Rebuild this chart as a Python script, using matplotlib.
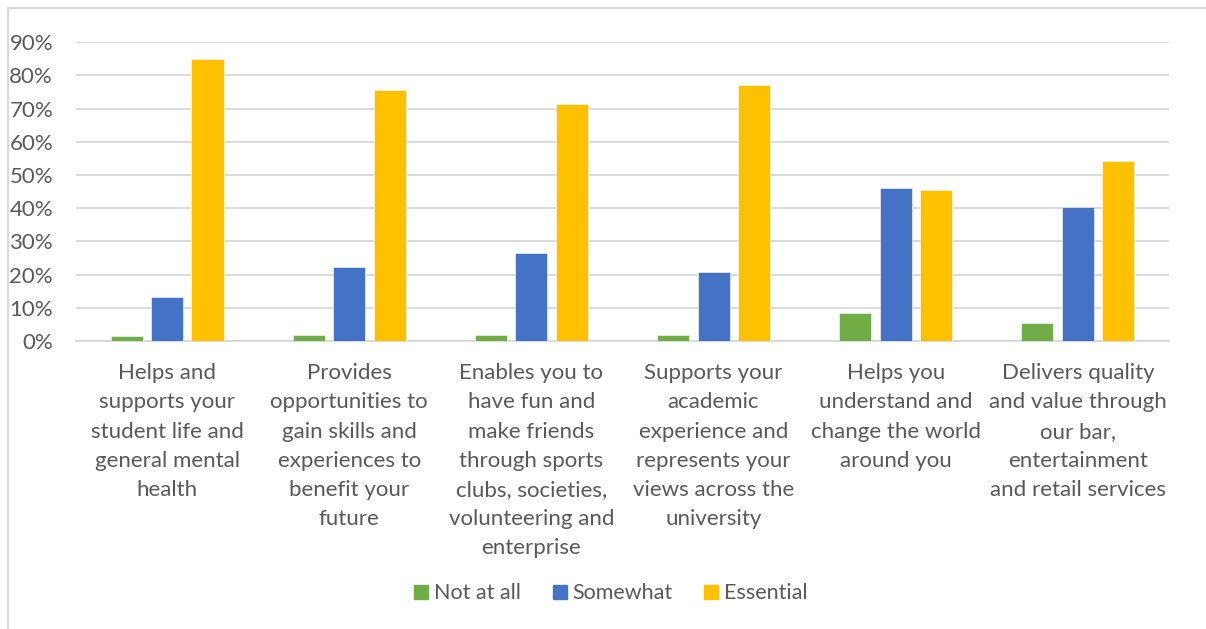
import numpy as np
import matplotlib
matplotlib.use("Agg")
import matplotlib.pyplot as plt
from matplotlib.lines import Line2D
from matplotlib.ticker import FuncFormatter

# Daten
categories = [
    "Helps and\nsupports your\nstudent life and\ngeneral mental\nhealth",
    "Provides\nopportunities to\ngain skills and\nexperiences to\nbenefit your\nfuture",
    "Enables you to\nhave fun and\nmake friends\nthrough sports\nclubs, societies,\nvolunteering and\nenterprise",
    "Supports your\nacademic\nexperience and\nrepresents your\nviews across the\nuniversity",
    "Helps you\nunderstand and\nchange the world\naround you",
    "Delivers quality\nand value through\nour bar,\nentertainment\nand retail services",
]
series_names = ["Not at all", "Somewhat", "Essential"]
not_at_all = [1.5, 1.7, 1.8, 1.8, 8.4, 5.4]
somewhat = [13.4, 22.4, 26.5, 20.8, 46.0, 40.3]
essential = [85.0, 75.6, 71.4, 77.1, 45.4, 54.1]
yticks = [0, 10, 20, 30, 40, 50, 60, 70, 80, 90]

colors = ["#70AD47", "#4472C4", "#FFC000"]
text_color = "#595959"
grid_color = "#D9D9D9"

plt.rcParams["font.family"] = ["Lato", "DejaVu Sans"]

fig = plt.figure(figsize=(12.06, 6.29), dpi=100)
ax = fig.add_axes([0.063, 0.4579, 0.9063, 0.4749])

x = np.arange(len(categories))
width = 0.176
step = 0.222
for i, (vals, name) in enumerate(zip([not_at_all, somewhat, essential], series_names)):
    ax.bar(x + (i - 1) * step, vals, width, color=colors[i], label=name,
           edgecolor="white", linewidth=0.4, zorder=3)

ax.set_xlim(-0.5, len(categories) - 0.5)
ax.set_ylim(0, 90)
ax.set_yticks(yticks)
ax.yaxis.set_major_formatter(FuncFormatter(lambda v, p: f"{int(v)}%"))
ax.grid(axis="y", color=grid_color, linewidth=1.3, zorder=0)
ax.set_xticks(x)
ax.set_xticklabels(categories, fontsize=16, color=text_color, linespacing=1.575)
ax.tick_params(axis="x", length=0, pad=16)
ax.tick_params(axis="y", length=0, pad=16.5, labelsize=16, labelcolor=text_color)
for s in ["top", "right", "left"]:
    ax.spines[s].set_visible(False)
ax.spines["bottom"].set_color(grid_color)
ax.spines["bottom"].set_linewidth(1.3)

handles = [Line2D([], [], marker="s", linestyle="none", markersize=10,
                  markerfacecolor=c, markeredgecolor=c) for c in colors]
fig.legend(handles, series_names, loc="center", bbox_to_anchor=(0.505, 0.057),
           ncol=3, frameon=False, fontsize=15.5, labelcolor=text_color,
           handletextpad=0.1, columnspacing=1.3, handlelength=1.0)

# heller Rahmen um das Diagramm (oben und links sichtbar)
fig.add_artist(Line2D([8 / 1206, 1], [1 - 8 / 629, 1 - 8 / 629], color=grid_color, linewidth=1.5))
fig.add_artist(Line2D([8 / 1206, 8 / 1206], [0, 1 - 8 / 629], color=grid_color, linewidth=1.5))

fig.savefig("out.png", dpi=100)
